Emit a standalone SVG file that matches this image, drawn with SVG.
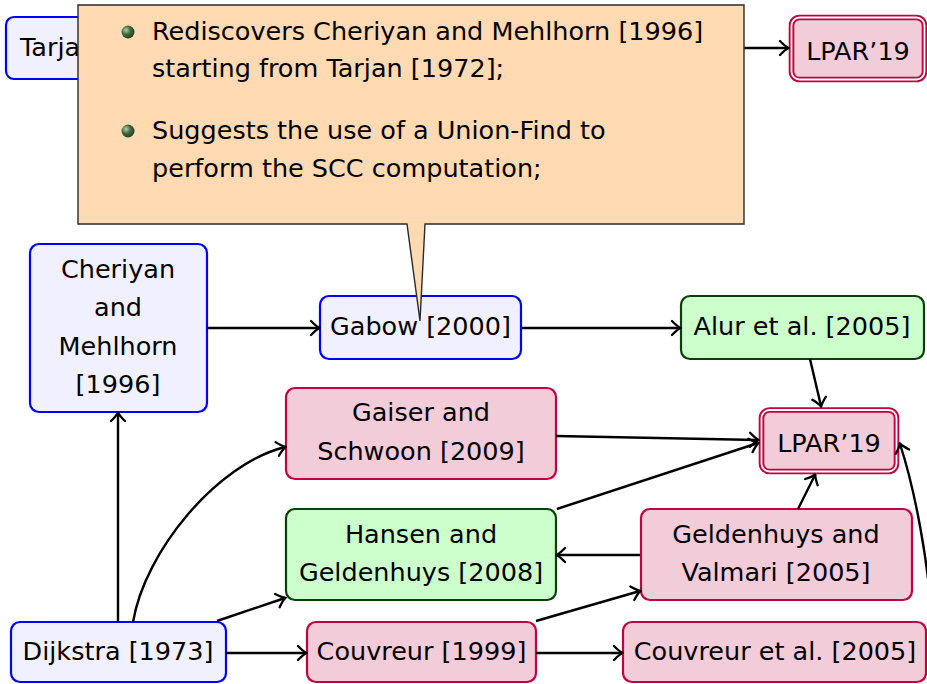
<svg xmlns="http://www.w3.org/2000/svg" width="927" height="684" viewBox="0 0 927 684">
  <defs>
    <style>
      text { font-family: "DejaVu Sans", "Liberation Sans", sans-serif; font-size: 25.5px; fill: #000; }
      .c { text-anchor: middle; }
      .blue rect { fill: #f0f0ff; stroke: #0000ff; stroke-width: 2.2; }
      .pink rect { fill: #f2ccd9; stroke: #c0003f; stroke-width: 2.2; }
      .green rect { fill: #ccffcc; stroke: #0a3f0a; stroke-width: 2.2; }
      .dbl .outer { fill: #f2ccd9; stroke: #c0003f; stroke-width: 5.6; }
      .dbl .inner { fill: none; stroke: #ffffff; stroke-width: 1.8; }
      .edge { fill: none; stroke: #000; stroke-width: 2.4; marker-end: url(#arr); }
      .callout { fill: #ffdab3; stroke: #2a2a2a; stroke-width: 1.4; }
    </style>
    <marker id="arr" viewBox="-10 -9 12 18" markerWidth="12" markerHeight="18" refX="0" refY="0" orient="auto" markerUnits="userSpaceOnUse">
      <path d="M-8,-7 Q-3,-1.8 0.6,0 Q-3,1.8 -8,7" fill="none" stroke="#000" stroke-width="2.3" stroke-linecap="round"/>
    </marker>
    <radialGradient id="ball" cx="0.35" cy="0.35" r="0.75">
      <stop offset="0" stop-color="#b4d0b4"/>
      <stop offset="0.45" stop-color="#3f6b3f"/>
      <stop offset="1" stop-color="#1c3a1c"/>
    </radialGradient>
  </defs>

  <!-- nodes -->
  <g id="tarjan" class="blue">
    <rect x="6" y="17" width="198" height="62" rx="8"/>
    <text x="20" y="56">Tarjan [1972]</text>
  </g>
  <g id="lpar-top" class="dbl">
    <rect class="outer" x="791.5" y="17.5" width="133" height="62" rx="8"/>
    <rect class="inner" x="791.5" y="17.5" width="133" height="62" rx="8"/>
    <text class="c" x="858" y="60">LPAR’19</text>
  </g>
  <g id="cheriyan" class="blue">
    <rect x="30" y="244" width="177" height="168" rx="9"/>
    <text class="c" x="118" y="278">Cheriyan</text>
    <text class="c" x="118" y="316">and</text>
    <text class="c" x="118" y="355">Mehlhorn</text>
    <text class="c" x="118" y="393">[1996]</text>
  </g>
  <g id="gabow" class="blue">
    <rect x="320" y="296" width="201" height="63" rx="9"/>
    <text class="c" x="420.5" y="335">Gabow [2000]</text>
  </g>
  <g id="alur" class="green">
    <rect x="681" y="296" width="243" height="63" rx="9"/>
    <text class="c" x="802" y="335">Alur et al. [2005]</text>
  </g>
  <g id="gaiser" class="pink">
    <rect x="286" y="388" width="270" height="91" rx="9"/>
    <text class="c" x="421" y="420.5">Gaiser and</text>
    <text class="c" x="421" y="460">Schwoon [2009]</text>
  </g>
  <g id="lpar-mid" class="dbl">
    <rect class="outer" x="761.5" y="410" width="135" height="61.5" rx="8"/>
    <rect class="inner" x="761.5" y="410" width="135" height="61.5" rx="8"/>
    <text class="c" x="829" y="452">LPAR’19</text>
  </g>
  <g id="hansen" class="green">
    <rect x="286" y="509" width="270" height="91" rx="9"/>
    <text class="c" x="421" y="542.5">Hansen and</text>
    <text class="c" x="421" y="580.5">Geldenhuys [2008]</text>
  </g>
  <g id="geldenhuys-valmari" class="pink">
    <rect x="641" y="509" width="271" height="91" rx="9"/>
    <text class="c" x="776" y="542.5">Geldenhuys and</text>
    <text class="c" x="776" y="580.5">Valmari [2005]</text>
  </g>
  <g id="dijkstra" class="blue">
    <rect x="11" y="622" width="215" height="60" rx="9"/>
    <text class="c" x="118" y="660">Dijkstra [1973]</text>
  </g>
  <g id="couvreur" class="pink">
    <rect x="307" y="622" width="229" height="60" rx="9"/>
    <text class="c" x="421.5" y="660">Couvreur [1999]</text>
  </g>
  <g id="couvreur-etal" class="pink">
    <rect x="623" y="622" width="303" height="60" rx="9"/>
    <text class="c" x="775" y="660">Couvreur et al. [2005]</text>
  </g>

  <!-- connectors -->
  <g id="edges">
    <path class="edge" d="M204,48 L788,48"/>
    <path class="edge" d="M207,328 L319,328"/>
    <path class="edge" d="M521,328 L680,328"/>
    <path class="edge" d="M810,359 L821,406"/>
    <path class="edge" d="M556,436 L758,440"/>
    <path class="edge" d="M557,509 L758,443"/>
    <path class="edge" d="M798,509 L815,475"/>
    <path class="edge" d="M640,555 L557,555"/>
    <path class="edge" d="M536,621 L640,591"/>
    <path class="edge" d="M536,653 L622,653"/>
    <path class="edge" d="M118,622 L118,413"/>
    <path class="edge" d="M133,622 C145,551 217,464 285,447"/>
    <path class="edge" d="M217,621 L285,598"/>
    <path class="edge" d="M226,653 L306,653"/>
    <path class="edge" d="M932,620 C928,560 915,490 900,444"/>
  </g>

  <!-- callout over Gabow [2000] -->
  <g id="callout">
    <path class="callout" d="M78,5 H744 V224 H425 L420,321 L407,224 H78 Z"/>
    <circle cx="128" cy="32" r="6.5" fill="url(#ball)"/>
    <text x="152" y="39.5">Rediscovers Cheriyan and Mehlhorn [1996]</text>
    <text x="152" y="77">starting from Tarjan [1972];</text>
    <circle cx="128" cy="131" r="6.5" fill="url(#ball)"/>
    <text x="152" y="138.5">Suggests the use of a Union-Find to</text>
    <text x="152" y="176.5">perform the SCC computation;</text>
  </g>
</svg>
